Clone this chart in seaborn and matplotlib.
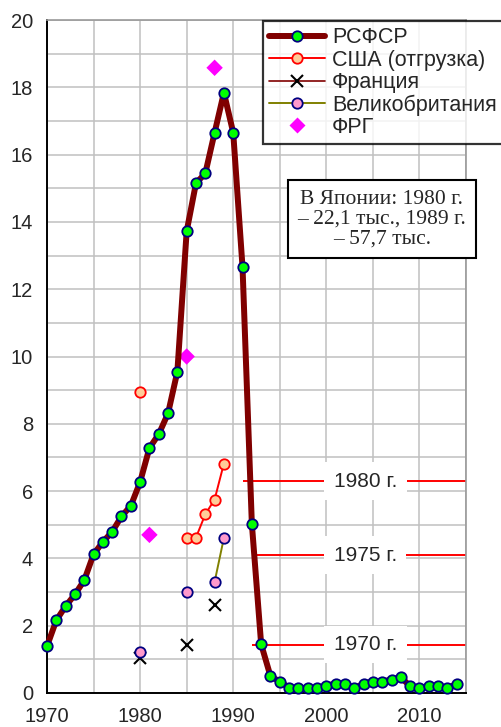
import numpy as np
import pandas as pd
import matplotlib
matplotlib.use("Agg")
import matplotlib.pyplot as plt
from matplotlib.lines import Line2D
import seaborn as sns

# ---------------- data ----------------
rsfsr_years = list(range(1970, 2015))
rsfsr_values = [1.39, 2.16, 2.58, 2.93, 3.35, 4.12, 4.49, 4.79, 5.25, 5.56,
                6.27, 7.28, 7.69, 8.31, 9.55, 13.72, 15.15, 15.44, 16.65, 17.84,
                16.65, 12.65, 5.03, 1.45, 0.50, 0.34, 0.16, 0.14, 0.14, 0.14,
                0.22, 0.28, 0.28, 0.14, 0.28, 0.34, 0.34, 0.40, 0.47, 0.20,
                0.14, 0.22, 0.20, 0.14, 0.28]

usa_years = [1980, 1985, 1986, 1987, 1988, 1989]
usa_values = [8.95, 4.62, 4.62, 5.31, 5.75, 6.82]

france_years = [1980, 1985, 1988]
france_values = [1.05, 1.42, 2.61]

gb_years = [1980, 1985, 1988, 1989]
gb_values = [1.22, 3.00, 3.30, 4.61]

frg_years = [1981, 1985, 1988]
frg_values = [4.70, 10.00, 18.58]

ref_labels = ["1970 г.", "1975 г.", "1980 г."]
ref_levels = [1.44, 4.09, 6.30]
ref_starts = [1992, 1992, 1991]

series_labels = ["РСФСР", "США (отгрузка)", "Франция", "Великобритания", "ФРГ"]
japan_note = "В Японии: 1980 г.\n– 22,1 тыс., 1989 г.\n– 57,7 тыс."


def segmented(years, values):
    df = pd.DataFrame({"year": years, "value": values})
    df["seg"] = (df["year"].diff() != 1).cumsum()
    return df


# ---------------- style ----------------
sns.set_style("white")
plt.rcParams["font.family"] = ["Liberation Sans", "DejaVu Sans"]

W, H = 502, 727
fig = plt.figure(figsize=(W / 100, H / 100), dpi=100)
ax = fig.add_axes([47 / W, 34 / H, (466 - 47) / W, (693 - 20) / H])

# grid
ax.set_xlim(1970, 2015)
ax.set_ylim(0, 20)
ax.set_xticks(range(1970, 2016, 5))
ax.set_xticklabels([str(y) if y % 10 == 0 else "" for y in range(1970, 2016, 5)])
ax.set_yticks(range(0, 21, 2))
ax.set_yticks(range(0, 21, 1), minor=True)
ax.grid(True, which="both", color="#C0C0C0", lw=1.1, zorder=0)
ax.set_axisbelow(True)
ax.tick_params(axis="both", which="major", direction="out", length=6, width=1.2,
               labelsize=14.5, color="black", pad=4)
ax.tick_params(axis="both", which="minor", length=0)
for s in ["left", "bottom"]:
    ax.spines[s].set_color("black")
    ax.spines[s].set_linewidth(1.4)
for s in ["top", "right"]:
    ax.spines[s].set_color("#999999")
    ax.spines[s].set_linewidth(1.2)

# reference levels
ax.hlines(ref_levels, ref_starts, 2015, color="#FF0000", lw=1.4, zorder=2)
for lab, lev in zip(ref_labels, ref_levels):
    ax.text(2004.2, lev, lab, ha="center", va="center", fontsize=15, zorder=3,
            bbox=dict(boxstyle="square,pad=0.45", fc="white", ec="none"))

# RSFSR
rs = pd.DataFrame({"year": rsfsr_years, "value": rsfsr_values})
sns.lineplot(data=rs, x="year", y="value", ax=ax, color="#800000", lw=4.3,
             marker="o", ms=7.5, markerfacecolor="#00FF00",
             markeredgecolor="#000080", markeredgewidth=1.3,
             clip_on=False, zorder=5, legend=False)

# USA
us = segmented(usa_years, usa_values)
sns.lineplot(data=us, x="year", y="value", units="seg", estimator=None, ax=ax,
             color="#FF0000", lw=1.4, marker="o", ms=7.5,
             markerfacecolor="#FFCC99", markeredgecolor="#FF0000",
             markeredgewidth=1.3, zorder=4, legend=False)

# France
fr = segmented(france_years, france_values)
sns.lineplot(data=fr, x="year", y="value", units="seg", estimator=None, ax=ax,
             color="#800000", lw=1.2, marker="x", ms=9,
             markeredgecolor="black", markeredgewidth=1.5, zorder=4, legend=False)

# Great Britain
gb = segmented(gb_years, gb_values)
sns.lineplot(data=gb, x="year", y="value", units="seg", estimator=None, ax=ax,
             color="#808000", lw=1.4, marker="o", ms=7.5,
             markerfacecolor="#FF99CC", markeredgecolor="#000080",
             markeredgewidth=1.3, zorder=4, legend=False)

# FRG
frg = pd.DataFrame({"year": frg_years, "value": frg_values})
sns.scatterplot(data=frg, x="year", y="value", ax=ax, marker="D", s=70,
                color="#FF00FF", edgecolor="none", zorder=4, legend=False)

ax.set_xlabel("")
ax.set_ylabel("")

# legend
handles = [
    Line2D([], [], color="#800000", lw=4.3, marker="o", ms=7.5,
           markerfacecolor="#00FF00", markeredgecolor="#000080", markeredgewidth=1.3),
    Line2D([], [], color="#FF0000", lw=1.4, marker="o", ms=7.5,
           markerfacecolor="#FFCC99", markeredgecolor="#FF0000", markeredgewidth=1.3),
    Line2D([], [], color="#800000", lw=1.2, marker="x", ms=9,
           markeredgecolor="black", markeredgewidth=1.5),
    Line2D([], [], color="#808000", lw=1.4, marker="o", ms=7.5,
           markerfacecolor="#FF99CC", markeredgecolor="#000080", markeredgewidth=1.3),
    Line2D([], [], color="none", lw=0, marker="D", ms=8,
           markerfacecolor="#FF00FF", markeredgecolor="none"),
]
leg = fig.legend(handles, series_labels, loc="upper left",
                 bbox_to_anchor=(263 / W, 1 - 21 / H), frameon=True,
                 fancybox=False, shadow=False, fontsize=15.5, handlelength=2.6,
                 handletextpad=0.3, labelspacing=0.06, borderpad=0.3,
                 borderaxespad=0)
leg.get_frame().set_edgecolor("black")
leg.get_frame().set_linewidth(1.6)
leg.set_zorder(10)

# Japan note
fig.text(381.7 / W, 1 - 219 / H, japan_note, ha="center", va="center",
         family=["Liberation Serif", "DejaVu Serif"], fontsize=15.5, linespacing=1.05,
         zorder=10,
         bbox=dict(boxstyle="square,pad=0.45", fc="white", ec="black", lw=1.5))

fig.savefig("out.png", dpi=100)
